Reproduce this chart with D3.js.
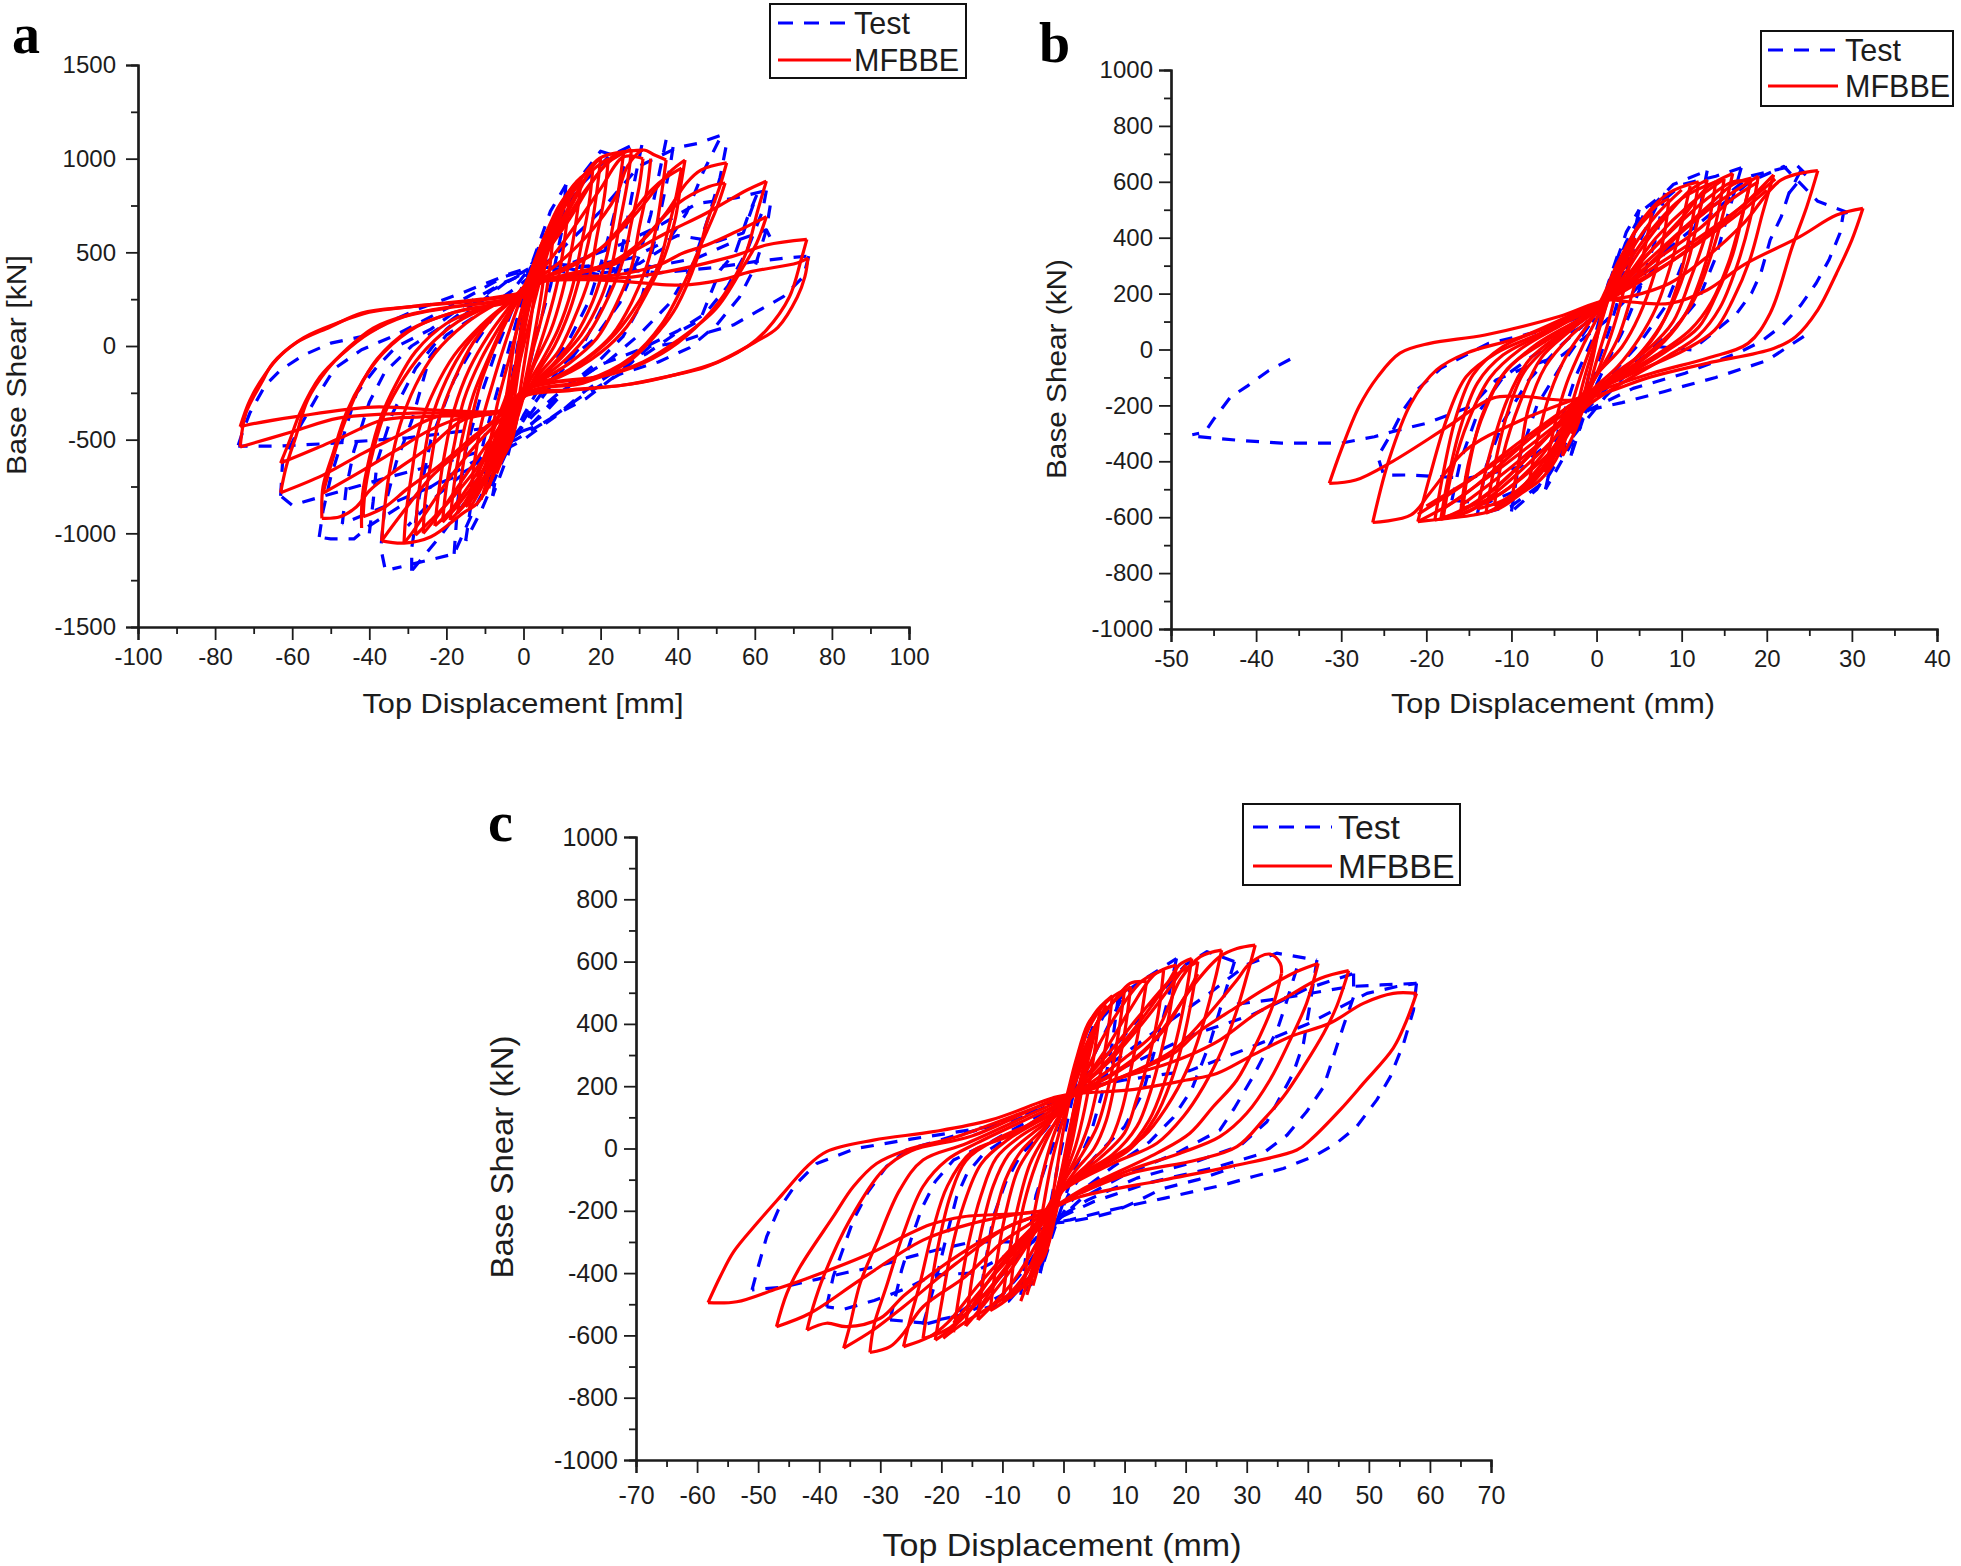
<!DOCTYPE html>
<html><head><meta charset="utf-8">
<script src="https://cdn.jsdelivr.net/npm/d3@7"></script>
<style>html,body{margin:0;padding:0;background:#fff}svg{display:block}</style></head>
<body><div id="chart"></div>
<script>
// ---------- tick labels ----------
const xTicksA=[-100,-80,-60,-40,-20,0,20,40,60,80,100];
const yTicksA=[-1500,-1000,-500,0,500,1000,1500];
const xTicksB=[-50,-40,-30,-20,-10,0,10,20,30,40];
const yTicksB=[-1000,-800,-600,-400,-200,0,200,400,600,800,1000];
const xTicksC=[-70,-60,-50,-40,-30,-20,-10,0,10,20,30,40,50,60,70];
const yTicksC=[-1000,-800,-600,-400,-200,0,200,400,600,800,1000];
const seriesNames=["Test","MFBBE"];

// ---------- panel a : MFBBE ----------
const mfbbeA=[
[[-73.5,-539],[-72,-358],[-68,-198],[-65,-91],[-59,17],[-50,103],[-42,176],[-29,210],[-11,245],[0,283],[4,340],[20,352],[41,325],[51,352],[59,397],[71,443],[73.8,469]],
[[73.8,469],[73,370],[71,260],[66,100],[60,20],[50,-88],[40,-150],[28,-203],[12,-238],[1,-262],[-5,-342],[-20,-345],[-39,-326],[-59,-377],[-72,-423],[-73.5,-431]],
[[-73.5,-431],[-71,-290],[-67,-150],[-63,-50],[-57,45],[-48,125],[-40,180],[-28,213],[-11,250],[0,288],[5,345],[29,370],[54,477],[63,539],[73.5,569]],
[[73.5,569],[72,459],[69,263],[63,85],[58,-4],[47.5,-111],[37,-164],[26,-208],[11,-235],[1,-251],[-5,-342],[-29,-358],[-48,-385],[-60,-458],[-73.5,-539]],
[[-63,-625],[-60.6,-502],[-58,-358],[-52.8,-164],[-46.8,-39],[-40,69],[-31,156],[-20,202],[-7,236],[0,262],[5,345],[11,379],[23,443],[30,523],[37,603],[47.5,710],[58,833],[63,880]],
[[63,880],[60.8,726],[58,512],[54.4,352],[49,192],[40,16],[31,-92],[20,-164],[7,-198],[1,-230],[-5,-345],[-22.5,-377],[-33,-484],[-41.6,-572],[-52,-689],[-63,-783]],
[[-63,-783],[-61.5,-640],[-59,-480],[-56,-288],[-51,-128],[-46,-20],[-39,96],[-30,165],[-20,205],[-7,238],[0,265],[5,345],[11,370],[24,379],[35,432],[41.4,496],[47.5,539],[54.4,603],[63,690]],
[[63,690],[60.5,550],[57,423],[50,200],[40,30],[31,-85],[20,-160],[7,-195],[1,-232],[-5,-345],[-26,-377],[-36.5,-395],[-46.8,-484],[-53.6,-545],[-63,-625]],
[[-52.3,-920],[-52,-750],[-49.4,-572],[-46,-358],[-41.6,-182],[-36.4,-38],[-27.7,103],[-15.7,192],[-3,240],[4,340],[11,380],[22.4,443],[31,566],[37,710],[42.3,870],[46,939],[52.7,978]],
[[52.7,978],[50.9,850],[47.5,655],[44.9,459],[39.7,210],[35.4,85],[26.8,-91],[15.4,-198],[2.5,-235],[-5,-345],[-15.7,-380],[-24.3,-449],[-33,-556],[-41.6,-662],[-52,-785]],
[[-52,-785],[-50,-640],[-47,-440],[-43,-240],[-38,-70],[-30,80],[-18,180],[-3,242],[4,345],[11,375],[25,450],[32,590],[40,760],[48,850],[52.3,870]],
[[52.3,870],[50,730],[46,540],[42,350],[36,120],[28,-60],[16,-185],[3,-235],[-5,-345],[-15.7,-395],[-24.3,-538],[-33,-662],[-39.8,-769],[-43.3,-858],[-47.6,-912],[-52.3,-920]],
[[-42,-972],[-41.8,-800],[-40,-600],[-37,-380],[-33,-200],[-28,-30],[-20,120],[-10,210],[-2,270],[3,345],[10,410],[20,520],[28,680],[34,830],[38,930],[41.9,993]],
[[41.9,993],[40.6,833],[39.3,672],[36.2,459],[32,283],[26.8,103],[19.8,-38],[9.5,-164],[0.8,-218],[-5,-350],[-14,-500],[-22,-640],[-30,-760],[-36,-860],[-41.6,-912]],
[[-41.6,-912],[-41,-760],[-39,-560],[-36,-360],[-31,-170],[-25,-10],[-17,130],[-8,220],[-1,275],[3,345],[10,400],[20,520],[27,680],[33,830],[37,900],[41,950]],
[[41,950],[39.5,790],[37.5,620],[35,430],[30,240],[24,70],[17,-60],[8,-175],[1,-225],[-5,-350],[-14,-520],[-24,-700],[-31,-880],[-36.8,-1040]],
[[-36.8,-1040],[-36,-860],[-34.5,-640],[-32,-420],[-28,-210],[-23,-40],[-15,120],[-7,225],[-1,280],[3,350],[9,440],[17,600],[24,800],[27,960],[31,1046],[34,1020],[37,993]],
[[37,993],[36,840],[34.5,640],[32,430],[28,230],[23,60],[16,-70],[8,-170],[1,-225],[-4,-350],[-12,-520],[-19,-700],[-25,-880],[-29,-1000],[-31,-1052]],
[[-31,-1052],[-30.5,-900],[-29,-680],[-27,-440],[-23,-230],[-18,-50],[-11,110],[-5,215],[0,285],[3,360],[8,490],[14,660],[20,840],[26,1010],[31,1000]],
[[31,1000],[30,850],[28,660],[26,470],[22,260],[17,70],[11,-70],[5,-170],[0,-240],[-4,-370],[-10,-540],[-16,-720],[-22,-900],[-26,-1000]],
[[-26,-1000],[-25.5,-820],[-24,-620],[-22,-400],[-18,-180],[-13,20],[-7,170],[-2,260],[2,370],[6,500],[12,680],[18,880],[23,1010],[26,1037]],
[[26,1037],[25,880],[23.5,680],[21.5,470],[18,240],[13,40],[8,-90],[3,-190],[-1,-290],[-4,-400],[-9,-570],[-14,-740],[-19,-880],[-23,-960]],
[[-23,-960],[-22,-780],[-20.5,-580],[-18,-340],[-14,-120],[-9,60],[-4,200],[0,300],[3,420],[8,590],[13,770],[18,960],[20,1003]],
[[20,1003],[19,820],[17.5,620],[15,400],[12,190],[8,0],[4,-130],[1,-240],[-3,-390],[-7,-540],[-12,-720],[-16,-860],[-19,-930]],
[[-19,-930],[-18,-740],[-16,-500],[-13,-260],[-9,-60],[-5,120],[-1,260],[2,400],[6,600],[11,800],[15,900]],
[[15,900],[14,720],[12.5,520],[10,280],[7,80],[3,-90],[0,-240],[-3,-400],[-7,-580],[-11,-760],[-14,-870]],
[[-14,-870],[-13,-660],[-11,-420],[-8,-200],[-5,0],[-2,180],[1,350],[5,560],[9,740],[12,830]],
[[12,830],[11,620],[9,360],[6,120],[3,-70],[0,-250],[-3,-430],[-6,-600],[-10,-790]],
[[-10,-790],[-9,-570],[-7,-330],[-4,-90],[-1,140],[2,370],[5,560],[8,680]],
[[8,680],[7,450],[5,180],[2,-60],[0,-270],[-3,-470],[-7,-680]],
[[-7,-680],[-6,-470],[-4,-210],[-2,60],[1,300],[4,480],[6,570]],
[[6,570],[5,330],[3,80],[1,-130],[-1,-320],[-3,-500],[-5.5,-600]],
[[-5.5,-600],[-3,-250],[-1,50],[2,340],[4,460]],
[[4,460],[2,150],[0,-120],[-2,-370],[-4,-520]],
[[-4,-520],[-2,-230],[0,50],[2,300],[3,400]],
[[33,1000],[32,830],[30,630],[28,420],[24,220],[19,40],[12,-90],[5,-180],[-1,-270],[-5,-420],[-11,-620],[-18,-800],[-24,-930],[-28,-1010]],
[[-28,-1010],[-27.5,-840],[-26,-620],[-24,-400],[-20,-180],[-15,0],[-9,140],[-3,250],[1,340],[5,470],[10,640],[16,830],[22,980],[28,1050]],
[[28,1050],[27,880],[25,660],[23,440],[20,250],[15,60],[9,-80],[3,-200],[-2,-330],[-6,-500],[-11,-680],[-17,-850],[-21,-940]],
[[-21,-940],[-20,-750],[-18,-530],[-15.5,-290],[-11,-70],[-6,110],[-2,240],[2,370],[7,560],[12,750],[17,920],[22,1000]],
[[22,1000],[21,800],[19,580],[17,360],[13,140],[9,-30],[4,-150],[0,-270],[-3,-420],[-8,-620],[-13,-790],[-17,-890]],
[[-17,-890],[-16,-680],[-14,-440],[-11,-190],[-7,20],[-3,190],[0,310],[4,490],[8,680],[13,860],[18,950]],
[[18,950],[17,760],[15,540],[12.5,300],[9,90],[5,-70],[1,-210],[-2,-370],[-6,-560],[-10,-720],[-15,-860]],
[[-15,-840],[-12,-730],[-9,-600],[-6,-440],[-3,-250],[0,0],[3,250],[6,480],[9,660],[12,800],[15,870]],
[[-13,-800],[-10,-640],[-7,-470],[-4.5,-330],[-2,-100],[1,190],[4,430],[7,600],[10,720],[13,820]],
[[-11,-820],[-8,-620],[-5.5,-440],[-3,-240],[-0.5,40],[2,330],[5,520],[8,690],[11,790]],
[[-12,-700],[-9,-520],[-6,-350],[-3,-180],[0,80],[2.5,290],[5.5,470],[8.5,610],[11.5,710]],
[[-10,-740],[-7.5,-550],[-5,-380],[-2.5,-150],[0,120],[3,380],[6,560],[9,710]],
[[-9,-760],[-6.5,-560],[-4,-360],[-1.5,-120],[1,220],[4,470],[7,640],[10,770]],
[[2.5,315],[6,530],[9.5,726],[14.7,886],[19.8,1003],[25.8,1037],[31,1046]],
[[-36.8,-1040],[-31,-1052],[-24,-1018],[-15.7,-892],[-12,-840],[-8,-700],[-5,-520],[-2.7,-358]]
];

// ---------- panel a : Test ----------
const testA=[
[[-74,-530],[-72.7,-449],[-71,-358],[-67,-210],[-63,-128],[-57,-48],[-50,15],[-42,50],[-35.5,122],[-28,192],[-16,283],[-3,390],[1,416],[6,440],[20,420],[35,390],[50,420],[60,450],[68,470],[74,480]],
[[74,480],[72.6,370],[67.4,263],[60.5,183],[54.4,112],[47.5,70],[39.7,16],[32.7,-4],[26.8,-111],[16.4,-278],[10.3,-346],[4.3,-422],[-1.8,-465],[-10,-440],[-30,-490],[-50,-520],[-64,-535],[-74,-535]],
[[-63,-800],[-62.5,-620],[-58,-430],[-53.6,-271],[-49,-120],[-42,-20],[-33,60],[-20,200],[-5,370],[3,420],[15,380],[30,410],[45,470],[55,560],[63,620],[65,540]],
[[64,750],[63,620],[60,420],[56,260],[50,110],[43,-10],[35,-85],[25,-150],[15,-270],[6,-400],[-2,-500],[-20,-620],[-35,-700],[-50,-790],[-60,-850],[-63,-800]],
[[-53,-1020],[-52,-880],[-50,-700],[-47,-500],[-43.3,-251],[-38,-111],[-33,-4],[-24,90],[-16,210],[-6,330],[2,400],[12,440],[25,540],[35,640],[45,760],[55,790],[63,830]],
[[63,830],[62,720],[58,510],[53,320],[47,170],[40,80],[30,-20],[20,-100],[10,-240],[2,-420],[-8,-560],[-20,-700],[-30,-830],[-40,-960],[-44,-1030],[-50,-1030],[-53,-1020]],
[[-36,-1180],[-37,-1080],[-36,-860],[-33,-620],[-29,-400],[-24.3,-57],[-20,58],[-11.3,176],[-2.7,300],[3,390],[10,520],[20,720],[30,960],[40,1060],[45,1080],[52,1130]],
[[52.5,1060],[51,900],[48,690],[44,440],[38,230],[30,60],[22,-80],[12,-200],[3,-360],[-6,-560],[-14,-800],[-21,-1000],[-29,-1200]],
[[-29,-1200],[-29,-1080],[-27,-800],[-24,-500],[-18,-180],[-12,30],[-6,210],[1,400],[8,640],[15,860],[22,1010],[30,1090]],
[[37,1100],[35,900],[33,700],[30,480],[25,230],[18,30],[10,-100],[2,-330],[-6,-600],[-13,-880],[-18,-1110],[-34,-1190]],
[[-18,-1110],[-17,-820],[-15,-560],[-11,-260],[-7,-20],[-2,240],[3,470],[8,680],[14,880],[20,1040],[26,1000]],
[[26,960],[24,740],[21,500],[17,240],[12,40],[7,-120],[0,-370],[-6,-640],[-11,-880],[-15,-1040]],
[[-15,-1040],[-13,-760],[-10,-480],[-6,-180],[-2,120],[2,430],[7,720],[11,860]],
[[11,860],[10,620],[7,320],[3,30],[0,-250],[-4,-580],[-8,-800]],
[[-8,-800],[-5,-430],[-2,-50],[2,400],[5,600]],
[[30.7,1073],[29,900],[27,680],[25,450],[21,230],[16,30],[10,-130],[4,-300],[-2,-470]],
[[38.8,1062],[38,955],[36,760],[34,560],[31,283],[29.4,183],[25.8,50],[19.8,-75],[12,-210],[5,-370],[-3,-490],[-12,-620],[-22,-790],[-30,-960]],
[[-40,-1000],[-39,-830],[-38,-620],[-34,-360],[-28,-120],[-20,90],[-12,220],[-4,350],[2,420],[10,420],[20,380],[30,440],[36.2,520],[42.3,710],[46.6,928],[51,1110]],
[[60.5,806],[58,680],[55,500],[51,405],[45.8,138],[39.7,69],[32,-40],[25,-118],[16,-240],[8,-380],[0,-500],[-18,-700],[-33,-830],[-47,-950]],
[[-47,-950],[-46,-760],[-44,-560],[-40,-300],[-36,-140],[-29,0],[-20,120],[-8,300],[1,400],[15,420],[28,470],[40,590],[50,557],[57,603],[60.5,806]]
];

// ---------- panel b : MFBBE ----------
const mfbbeB=[
[[31.3,505],[30,392],[28.2,273],[26,142],[23.4,46],[20.8,4],[13,-49],[6.5,-97],[-2.2,-180],[-8.8,-168],[-12.2,-174],[-17.5,-276],[-24,-401],[-28.3,-467],[-31.4,-479]],
[[-31.4,-479],[-30,-359],[-27.9,-204],[-25.7,-97],[-23.1,-13],[-19.6,22],[-13.1,52],[-4.4,118],[1.2,177],[4,170],[8.6,165],[13,213],[17.3,303],[23.9,404],[28.2,481],[31.3,505]],
[[26,640],[24.7,511],[23,368],[20.4,130],[17.8,22],[13,-31],[6.5,-85],[-2.2,-174],[-8.8,-252],[-15.3,-359],[-19.6,-514],[-21.8,-592],[-26.3,-619]],
[[-26.3,-619],[-24.4,-395],[-21.8,-192],[-18.8,-73],[-15.3,-13],[-8.8,46],[1.2,177],[4,190],[8.6,237],[13,332],[17.3,452],[21.7,607],[26,640]],
[[20.8,625],[19.5,487],[18,320],[16,177],[13.9,70],[10.4,-1],[4.3,-85],[-2.2,-180],[-6,-270],[-12,-430],[-16,-530],[-21,-616]],
[[-21,-616],[-19.6,-455],[-17.5,-240],[-15.3,-97],[-11.8,-13],[-6.6,58],[1.2,177],[4,230],[9,320],[13,410],[17,510],[20.8,625]],
[[-21,-616],[-17.5,-604],[-14.4,-592],[-11.4,-568],[-8.8,-514],[-6.6,-466],[-4.8,-395],[-3.5,-300],[-2.4,-228]],
[[18.2,613],[17.3,500],[16,340],[14,190],[12,80],[8,-10],[3,-100],[-2,-180],[-6,-320],[-11,-470],[-15,-560],[-18.3,-607]],
[[-18.3,-607],[-17.5,-470],[-16,-280],[-14,-120],[-11,-20],[-6,60],[1,177],[5,290],[9,400],[13,510],[16,590],[18.2,613]],
[[18,590],[17,470],[15.5,310],[13.5,170],[11,70],[7,-20],[2,-110],[-2,-190],[-7,-350],[-12,-500],[-16,-580],[-18,-600]],
[[-18,-600],[-17,-440],[-15,-250],[-12.5,-100],[-9,0],[-4,90],[1,177],[5,310],[9,430],[13,540],[16,600],[18,600]],
[[16,630],[15,500],[13.5,340],[11.5,180],[9,70],[5,-40],[1,-130],[-3,-240],[-7,-400],[-11,-510],[-15.7,-568]],
[[-15.7,-568],[-15,-420],[-13.5,-240],[-11,-90],[-7,20],[-2,110],[2,200],[6,340],[10,470],[13,580],[16,630]],
[[13,607],[12,480],[10.8,320],[9,170],[7,60],[4,-50],[0,-140],[-3,-260],[-7,-430],[-10,-530],[-13,-586]],
[[-13,-586],[-12,-420],[-10.5,-230],[-8.5,-80],[-5,30],[-1,120],[2,210],[5,350],[8,470],[11,570],[13,607]],
[[11,585],[10,450],[8.7,300],[7,150],[5,40],[2.5,-60],[-1,-160],[-4,-300],[-7,-450],[-10,-538]],
[[-10,-538],[-9,-380],[-8,-210],[-6,-60],[-3,50],[0,130],[2,220],[4,350],[7,480],[10,571]],
[[8.5,540],[8,420],[6.8,270],[5,120],[3,10],[0,-90],[-2,-180],[-4.5,-340],[-6.5,-440],[-8,-490]],
[[-8,-490],[-7,-330],[-5.5,-160],[-3.5,-20],[-1,90],[1,180],[3.4,356],[5.2,452],[6.9,511],[8.5,540]],
[[6.5,490],[5.5,340],[4,180],[2.5,40],[0.5,-70],[-1.5,-170],[-3.5,-300],[-6,-440]],
[[-6,-440],[-5,-280],[-3.5,-120],[-1.5,20],[0.5,140],[2.5,290],[4.5,420],[6.5,490]],
[[4.5,400],[3.5,250],[2,80],[0.5,-50],[-1,-160],[-2.5,-290],[-4,-380]],
[[-4,-380],[-3,-210],[-1.5,-60],[0.5,100],[2,240],[4.5,400]],
[[3,300],[1.5,110],[0,-40],[-1.5,-200],[-3,-300]],
[[-3,-300],[-1.5,-110],[0,40],[1.5,190],[3,300]],
[[1,200],[-0.5,-40],[-2,-220]],
[[-19,-610],[-18,-440],[-16.5,-240],[-14.5,-90],[-11,10],[-5,90],[1.5,190],[6,300],[10,420],[14,520],[19,620]],
[[19,620],[18,460],[16.5,300],[14.5,150],[12,50],[8,-30],[3,-120],[-1,-200],[-6,-350],[-11,-490],[-15,-580],[-19,-610]],
[[-16,-590],[-15,-400],[-13,-210],[-10.5,-70],[-6,30],[-1,120],[3,240],[7,400],[11,520],[15,610]],
[[15,610],[14,450],[12.5,280],[10.5,130],[8,30],[4,-70],[0,-160],[-4,-320],[-8,-440],[-12,-530],[-16,-590]],
[[-14,-570],[-12.5,-370],[-10.5,-180],[-8,-40],[-4,60],[0,140],[3,280],[6.5,430],[10,540],[14,600]],
[[14,600],[13,430],[11,250],[9,100],[6,0],[2,-90],[-1,-180],[-4.5,-360],[-8,-470],[-11,-540],[-14,-570]],
[[-12,-560],[-11,-380],[-9,-190],[-6.5,-30],[-3,70],[0,150],[2.5,310],[5.5,470],[8.5,560],[12,600]],
[[12,600],[11,420],[9.5,230],[7.5,80],[5,-20],[1.5,-110],[-2,-220],[-5,-380],[-8,-490],[-12,-560]],
[[-21,-590],[-15,-470],[-9,-330],[-3,-200],[1,-130]],
[[-20,-560],[-13,-430],[-7,-300],[-2,-190]],
[[-18,-570],[-12,-440],[-6,-300],[-1,-180]],
[[-16,-560],[-10,-420],[-5,-290],[0,-160]],
[[1,180],[6,280],[12,400],[17,510],[21,610]],
[[2,190],[7,320],[12,430],[16,540],[19,600]],
[[1,170],[6,260],[11,360],[16,470],[20,570]]
];

// ---------- panel b : Test ----------
const testB=[
[[-36,-35],[-38.5,-75],[-41,-130],[-43,-170],[-45,-250],[-46,-295],[-47.5,-305]],
[[-46.8,-312],[-42,-325],[-37,-335],[-30,-335],[-26.1,-312],[-24,-294],[-20,-264],[-14.8,-204],[-11.8,-109],[-8,-60],[-4,-20],[1,100],[6,260],[10,430],[14,520],[18,620],[23.5,660],[24.5,630],[22.6,559]],
[[29.5,490],[29,487],[28.6,416],[27.3,320],[25.8,237],[24,159],[21.9,88],[19.3,28],[16.9,-8],[10.4,-85],[4.3,-139],[-0.9,-216],[-5,-320],[-9,-420],[-15,-460],[-22.2,-449],[-25,-450],[-25.7,-383],[-24,-294],[-22.7,-216],[-20.9,-139],[-18.3,-67],[-15.7,-25],[-12.7,22],[-6,70],[0,140],[6,300],[12,450],[18,600],[22,655],[26,530],[29.5,490]],
[[24,640],[22.6,559],[21.7,475],[20.4,392],[19.3,273],[18.2,201],[16.5,130],[11.2,-2],[7.3,10],[3,-80],[-1,-210],[-5,-400],[-9,-500],[-13,-550],[-17,-540]],
[[-17,-540],[-16,-400],[-14,-230],[-11,-100],[-6,10],[0,110],[4,320],[7,510],[10,590],[14,620],[17,650]],
[[17,650],[15.5,490],[14,330],[12,180],[9,70],[5,-40],[1,-170],[-3,-320],[-6,-470],[-10,-560],[-14,-590]],
[[-14,-590],[-13,-420],[-11,-260],[-8,-110],[-4,20],[0,130],[3,330],[5.5,480],[9,590],[13,640]],
[[13,640],[12,480],[10,300],[8,150],[5,20],[2,-80],[-1,-190],[-4,-350],[-7,-500],[-10,-580]],
[[-10,-580],[-9,-380],[-7,-200],[-4,-50],[-1,80],[1.5,220],[3.4,380],[5.5,500],[8,560]],
[[8,560],[7,400],[5,210],[3,60],[1,-60],[-1,-190],[-3,-340],[-6,-500]],
[[-6,-500],[-4.5,-290],[-2.5,-100],[0,70],[1.5,240],[3.5,420],[5,500]],
[[5,500],[3.5,280],[1.5,70],[0,-60],[-1.5,-240],[-3,-380]],
[[-3,-380],[-1.5,-180],[-0.3,0],[1.3,230],[2.5,340]],
[[-0.9,-216],[3,-190],[8,-150],[14,-100],[20,-40],[25,60]]
];

// ---------- panel c : MFBBE ----------
const mfbbeC=[
[[-58.2,-495],[-56.2,-411],[-54,-331],[-50.2,-240],[-45.9,-144],[-42,-58],[-38.8,-10],[-31.1,27],[-21.3,54],[-12,91],[-1.1,166],[2.7,177],[10.9,188],[20.2,220],[25.1,241],[30.5,295],[37.1,359],[43.6,402],[49.1,466],[54,498],[57.8,498]],
[[57.8,498],[56.2,412],[54,322],[49.1,209],[45.3,124],[40.4,27],[38.2,-5],[27.3,-58],[16.4,-101],[2.7,-155],[-2.7,-197],[-6.6,-208],[-16.4,-219],[-21.9,-245],[-32.8,-347],[-42,-417],[-47.5,-454],[-53.5,-492],[-58.2,-495]],
[[-47,-572],[-45.3,-465],[-43.1,-379],[-37.7,-219],[-34.4,-122],[-30.6,-48],[-25.7,-5],[-17.5,38],[-1.1,156],[2.7,177],[8.2,220],[16.4,268],[20.7,300],[25.6,348],[31.6,434],[36.6,487],[42,546],[46.7,571]],
[[46.7,571],[44.7,455],[42.6,370],[39.3,263],[36,166],[32.7,91],[28.4,6],[21.8,-37],[10.9,-80],[2.7,-144],[-2.7,-197],[-6.6,-208],[-14.8,-240],[-23,-294],[-33.3,-422],[-41.5,-529],[-47,-572]],
[[-42,-583],[-41,-508],[-39.3,-411],[-35,-230],[-29.5,-69],[-25,-8],[-15,40],[-1.1,160],[2.7,177],[10.9,241],[18,305],[21.8,370],[28.4,455],[32.7,509],[38.2,568],[41.7,594]],
[[41.7,594],[39.8,466],[37.1,348],[33.8,220],[30,113],[25.6,38],[19.1,-15],[10.9,-69],[2.7,-140],[-2.7,-200],[-10,-260],[-17,-340],[-26,-470],[-30,-545],[-35.5,-572],[-38.8,-561],[-42,-583]],
[[-36,-641],[-35,-570],[-33.3,-433],[-30.6,-304],[-26.8,-133],[-23,-37],[-15.8,17],[-1.1,148],[2.7,177],[10.9,241],[18,316],[22.9,412],[28.4,541],[30.5,594],[33.8,624],[35.5,594],[35.7,562]],
[[35.7,562],[34.4,466],[31.6,338],[28.4,220],[24.5,134],[20.7,49],[15.3,-15],[2.7,-135],[-3,-205],[-9,-250],[-17.5,-368],[-26.2,-508],[-31.1,-582],[-36,-641]],
[[-31.7,-655],[-31,-565],[-29,-443],[-26.2,-272],[-23,-122],[-19.1,-37],[-14.2,17],[-1.1,140],[2.7,180],[10.9,273],[16.4,380],[20.7,509],[25.6,616],[28.4,642],[31.4,653]],
[[31.4,653],[30,552],[28.4,445],[26.2,327],[22.9,198],[19.6,102],[15.3,17],[8.2,-47],[0,-133],[-4,-220],[-10,-300],[-16,-410],[-23,-508],[-26.2,-593],[-28.4,-636],[-31.7,-655]],
[[-26.2,-636],[-25,-540],[-23.5,-433],[-21.5,-270],[-19,-120],[-15,-10],[-9,40],[-1,135],[3,190],[10,290],[15.3,380],[19.1,541],[22.4,616],[25.9,637]],
[[25.9,637],[24.8,541],[22.9,402],[20.2,252],[16.9,134],[13.1,38],[6.5,-47],[0,-130],[-4,-230],[-9,-330],[-14,-440],[-19,-560],[-21.9,-604],[-26.2,-636]],
[[-21,-615],[-20,-500],[-18.5,-340],[-16.5,-190],[-13.5,-50],[-9,30],[-1,125],[3,200],[8,300],[13,420],[17,530],[19,590],[21,610]],
[[21,610],[20,490],[18.5,350],[16.5,210],[14,90],[10,-10],[5,-70],[0,-130],[-4,-250],[-9,-370],[-13,-470],[-18,-572],[-21,-615]],
[[-19.7,-609],[-16.4,-561],[-12,-508],[-8.8,-465],[-5.5,-379],[-3.3,-262],[-1.1,-187]],
[[-18,-590],[-17,-460],[-15.5,-300],[-13.5,-150],[-11,-30],[-7,40],[-1,115],[3,210],[7,320],[11,450],[15,560],[18.5,589]],
[[18.5,589],[17.5,450],[16,310],[14.2,180],[12,70],[8,-20],[3,-80],[-1,-140],[-5,-280],[-9,-400],[-13,-500],[-16,-570]],
[[-16,-570],[-15,-420],[-13.5,-270],[-11.5,-120],[-9,-20],[-5,50],[-1,110],[3,220],[6,340],[10,470],[13,540],[16.4,573]],
[[16.4,573],[15.5,430],[14,290],[12,160],[10,50],[6,-30],[2,-90],[-1,-150],[-4,-290],[-8,-420],[-11,-490],[-14,-550]],
[[-14,-550],[-13,-400],[-11.5,-240],[-9.5,-100],[-7,-10],[-3,70],[1,170],[4.1,338],[6,418],[8.2,471],[10.9,530],[13.6,536]],
[[13.6,536],[12.5,400],[11,250],[9.5,120],[7.5,20],[4,-50],[0,-130],[-3,-270],[-6,-400],[-9,-480],[-12,-520]],
[[-12,-520],[-11,-370],[-9.5,-210],[-7.5,-70],[-5,10],[-2,90],[1,180],[3,300],[6,420],[8.2,471],[11,520]],
[[11,520],[10,370],[8.5,220],[7,90],[5,0],[2,-70],[-1,-160],[-3,-290],[-5.5,-410],[-8.8,-480]],
[[-8.8,-480],[-8,-340],[-6.5,-180],[-4.5,-50],[-2,60],[1,170],[3,320],[5,430],[8,490]],
[[8,490],[7,340],[5.5,190],[4,70],[2,-30],[0,-110],[-2,-240],[-4,-370],[-6.5,-450]],
[[-6.5,-450],[-5.5,-290],[-4,-130],[-2,20],[0,130],[2,280],[4,400],[6,450]],
[[6,450],[5,300],[3.5,130],[2,10],[0,-100],[-1.5,-230],[-3,-340],[-5,-400]],
[[-5,-400],[-3.5,-210],[-2,-50],[0,100],[1.6,198],[2.7,252],[4.5,370]],
[[4.5,370],[3,190],[1.5,30],[0,-90],[-1.5,-220],[-3,-320]],
[[-3,-320],[-1.5,-120],[0,60],[1.5,200],[3,300]],
[[-23,-610],[-22,-480],[-20.5,-310],[-18.5,-150],[-16,-40],[-11,30],[-1,120],[3,210],[8,320],[13,440],[18,550],[22,600]],
[[22,600],[21,480],[19.5,340],[17.5,210],[15,100],[11,0],[6,-60],[0,-130],[-4,-240],[-9,-380],[-14,-490],[-19,-580],[-23,-610]],
[[-10,-490],[-9,-350],[-7.5,-190],[-5.5,-50],[-3,40],[0,120],[2,260],[4,380],[7,470],[10,510]],
[[10,510],[9,370],[7.5,210],[5.5,70],[3,-20],[0,-110],[-2,-240],[-4,-370],[-7,-450],[-10,-490]],
[[-7,-490],[-5,-380],[-3,-250],[-1,-130],[1,60],[3,240],[5,380],[7,460]],
[[-6,-470],[-4,-340],[-2,-200],[0,-50],[2,150],[4,300],[6,430]],
[[-5,-440],[-3,-300],[-1,-160],[1,20],[3,200],[5,360]],
[[-14,-520],[-10,-400],[-6,-300],[-2,-210]],
[[-18,-560],[-12,-420],[-7,-310],[-2,-200]],
[[-16,-540],[-11,-390],[-6,-280],[-1,-190]],
[[2,180],[8,240],[14,330],[19,460],[22,560]],
[[2,185],[7,270],[12,380],[16,480],[20,590]]
];

// ---------- panel c : Test ----------
const testC=[
[[57.8,530],[57.3,444],[55.7,338],[53.5,230],[51.3,156],[48,70],[44.7,17],[40.9,-26],[36,-64],[31.1,-90],[26.2,-117],[21.3,-138],[16.4,-160],[11.4,-181],[6.5,-203],[1.1,-229],[-2.2,-240],[-5,-300],[-15,-300],[-20.8,-326],[-25,-347],[-30.6,-379],[-35.5,-398],[-40.4,-420],[-46,-445],[-51,-454]],
[[-51,-454],[-50,-380],[-48.6,-283],[-46.7,-197],[-43.7,-112],[-40.4,-48],[-34,0],[-25,30],[-12,70],[-1,150],[2,190],[10,220],[20.7,250],[30,320],[40,400],[49.7,498],[54.6,520],[57.8,530]],
[[47.5,562],[47.5,487],[45.8,391],[44.2,295],[42.6,198],[39.8,118],[36.6,43],[32.7,-15],[25,-60],[14,-110],[5,-170],[-2,-235],[-8,-330],[-15,-400],[-21.3,-406],[-25.7,-449],[-31,-488],[-36,-516],[-38.8,-508]],
[[-38.8,-508],[-37.7,-411],[-34.4,-229],[-32,-139],[-29,-58],[-25.7,-5],[-18,40],[-8,90],[-1,150],[3,200],[12,280],[21,364],[31,430],[40,514],[47.5,562]],
[[41.5,605],[40.5,480],[39.3,338],[37.6,241],[33.3,86],[29,10],[22,-40],[12,-95],[4,-165],[-2,-235],[-7,-340],[-13,-470],[-18,-540],[-23,-560],[-28.4,-550]],
[[-28.4,-550],[-26.5,-390],[-25,-294],[-23.2,-192],[-21,-106],[-18,-37],[-12,20],[-1,140],[3,210],[9,290],[16,390],[24,500],[30,590],[34.9,627],[41.5,605]],
[[38.2,578],[36.5,470],[35,380],[31,230],[28,130],[25.6,59],[19,-10],[10,-85],[3,-160],[-2,-250],[-6,-380],[-10,-470],[-16,-530],[-23,-566]],
[[-23,-566],[-21,-430],[-19,-270],[-17.5,-155],[-15.8,-80],[-13,-15],[-8,50],[-1,130],[3,220],[9,340],[15,480],[20,590],[23.5,632],[28,600]],
[[28,600],[26,470],[24,340],[21,190],[18,100],[14,20],[8,-60],[2,-150],[-2,-260],[-5,-400],[-9,-490],[-14,-520]],
[[-14,-520],[-13,-390],[-11.5,-220],[-9.5,-110],[-7,-20],[-3,60],[1,160],[4,260],[9.8,493],[11.4,520],[18.5,610]],
[[18.5,610],[17,470],[15,320],[13,180],[10,70],[5,-30],[1,-140],[-2,-270],[-4,-410],[-7,-470]],
[[-7,-470],[-6,-320],[-4.5,-150],[-2.5,-30],[0,100],[3,290],[6.5,423],[9.8,493]],
[[9,490],[8,340],[6.5,190],[4.5,50],[2,-60],[0,-170],[-2,-290],[-3.8,-400]],
[[-3.8,-400],[-2.5,-220],[-1,-60],[1,120],[3,300],[5,400]],
[[-2,-240],[1,-235],[5,-220],[8,-205],[12,-170],[16,-130],[22,-100],[28,-60]],
[[57.8,530],[52,525],[47,520],[41,500],[35,480],[27,460]]
];

// ---------- drawing ----------
const W=1961,H=1566;
const svg=d3.select("#chart").append("svg").attr("width",W).attr("height",H).attr("viewBox",`0 0 ${W} ${H}`).style("background","#fff");
const SANS='"Liberation Sans",Arial,sans-serif', SERIF='"Liberation Serif","Times New Roman",serif';
const INK="#1c1c1c", RED="#ff0000", BLUE="#0000ff";

function minorTicks(t){const s=[];for(let i=0;i<t.length-1;i++)s.push((t[i]+t[i+1])/2);return s;}

function panel(p){
  const x=d3.scaleLinear().domain(p.xDom).range([p.x0,p.x1]);
  const y=d3.scaleLinear().domain(p.yDom).range([p.y0,p.y1]);
  const g=svg.append("g");
  const redLine=d3.line().x(d=>x(d[0])).y(d=>y(d[1])).curve(d3.curveCatmullRom.alpha(0.5));
  const blueLine=d3.line().x(d=>x(d[0])).y(d=>y(d[1])).curve(d3.curveLinear);

  const draw=(data,gen,color,dash,width)=>{
    g.append("g").attr("fill","none").attr("stroke",color).attr("stroke-width",width)
      .attr("stroke-linejoin","round").attr("stroke-dasharray",dash)
      .selectAll("path").data(data).join("path").attr("d",gen);
  };
  draw(p.test,blueLine,BLUE,"13 11",3.2);
  draw(p.model,redLine,RED,null,3.2);

  // axes
  const fmt=d=>String(d);
  const xAxis=d3.axisBottom(x).tickValues(p.xTicks).tickSize(13).tickPadding(p.xPad).tickFormat(fmt);
  const yAxis=d3.axisLeft(y).tickValues(p.yTicks).tickSize(p.tick).tickPadding(p.yPad).tickFormat(fmt);
  g.append("g").attr("transform",`translate(0,${p.y0})`).call(xAxis);
  g.append("g").attr("transform",`translate(${p.x0},0)`).call(yAxis);
  g.append("g").attr("transform",`translate(0,${p.y0})`).call(d3.axisBottom(x).tickValues(minorTicks(p.xTicks)).tickSize(7).tickFormat(""));
  g.append("g").attr("transform",`translate(${p.x0},0)`).call(d3.axisLeft(y).tickValues(minorTicks(p.yTicks)).tickSize(7).tickFormat(""));
  g.selectAll(".domain").attr("stroke",INK).attr("stroke-width",2.2);
  g.selectAll(".tick line").attr("stroke",INK).attr("stroke-width",1.8);
  g.selectAll(".tick text").attr("font-family",SANS).attr("font-size",p.tickFont).attr("fill",INK);

  // titles
  g.append("text").attr("x",p.xTitle[0]).attr("y",p.xTitle[1]).attr("text-anchor","middle")
    .attr("font-family",SANS).attr("font-size",p.titleFont).attr("fill",INK)
    .attr("textLength",p.xTitle[3]).attr("lengthAdjust","spacingAndGlyphs").text(p.xTitle[2]);
  g.append("text").attr("transform",`translate(${p.yTitle[0]},${p.yTitle[1]}) rotate(-90)`).attr("text-anchor","middle")
    .attr("font-family",SANS).attr("font-size",p.titleFont).attr("fill",INK)
    .attr("textLength",p.yTitle[3]).attr("lengthAdjust","spacingAndGlyphs").text(p.yTitle[2]);

  // panel letter
  g.append("text").attr("x",p.letter[1]).attr("y",p.letter[2]).attr("font-family",SERIF)
    .attr("font-weight","bold").attr("font-size",p.letter[3]).attr("fill","#000").text(p.letter[0]);

  // legend
  const L=p.legend;
  const lg=g.append("g");
  lg.append("rect").attr("x",L.x0).attr("y",L.y0).attr("width",L.x1-L.x0).attr("height",L.y1-L.y0)
    .attr("fill","#fff").attr("stroke","#111").attr("stroke-width",2);
  seriesNames.forEach((n,i)=>{
    lg.append("line").attr("x1",L.l0).attr("x2",L.l1).attr("y1",L.ys[i]).attr("y2",L.ys[i])
      .attr("stroke",i?RED:BLUE).attr("stroke-width",3).attr("stroke-dasharray",i?null:"15 11");
    lg.append("text").attr("x",L.tx).attr("y",L.ys[i]+L.font*0.35).attr("font-family",SANS)
      .attr("font-size",L.font).attr("fill",INK).text(n);
  });
}

panel({xDom:[-100,100],yDom:[-1500,1500],x0:138,x1:909,y0:627,y1:65,xTicks:xTicksA,yTicks:yTicksA,tick:12,xPad:8,yPad:10,
  test:testA,model:mfbbeA,tickFont:24,titleFont:28,
  xTitle:[523,713,"Top Displacement [mm]",321],yTitle:[26,365,"Base Shear [kN]",220],letter:["a",12,53,56],
  legend:{x0:770,y0:4,x1:966,y1:78,l0:778,l1:851,ys:[23,60],tx:854,font:30.5}});

panel({xDom:[-50,40],yDom:[-1000,1000],x0:1171,x1:1937,y0:629,y1:70,xTicks:xTicksB,yTicks:yTicksB,tick:12,xPad:8,yPad:6,
  test:testB,model:mfbbeB,tickFont:24,titleFont:28,
  xTitle:[1553,713,"Top Displacement (mm)",324],yTitle:[1066,369,"Base Shear (kN)",220],letter:["b",1039,62,56],
  legend:{x0:1761,y0:31,x1:1953,y1:106,l0:1768,l1:1838,ys:[50,86],tx:1845,font:30.5}});

panel({xDom:[-70,70],yDom:[-1000,1000],x0:636,x1:1491,y0:1460,y1:837,xTicks:xTicksC,yTicks:yTicksC,tick:12,xPad:13,yPad:6,
  test:testC,model:mfbbeC,tickFont:25,titleFont:32,
  xTitle:[1062,1556,"Top Displacement (mm)",359],yTitle:[513,1157,"Base Shear (kN)",243],letter:["c",488,841,56],
  legend:{x0:1243,y0:804,x1:1460,y1:885,l0:1253,l1:1332,ys:[827,866],tx:1338,font:33.8}});
</script></body></html>
